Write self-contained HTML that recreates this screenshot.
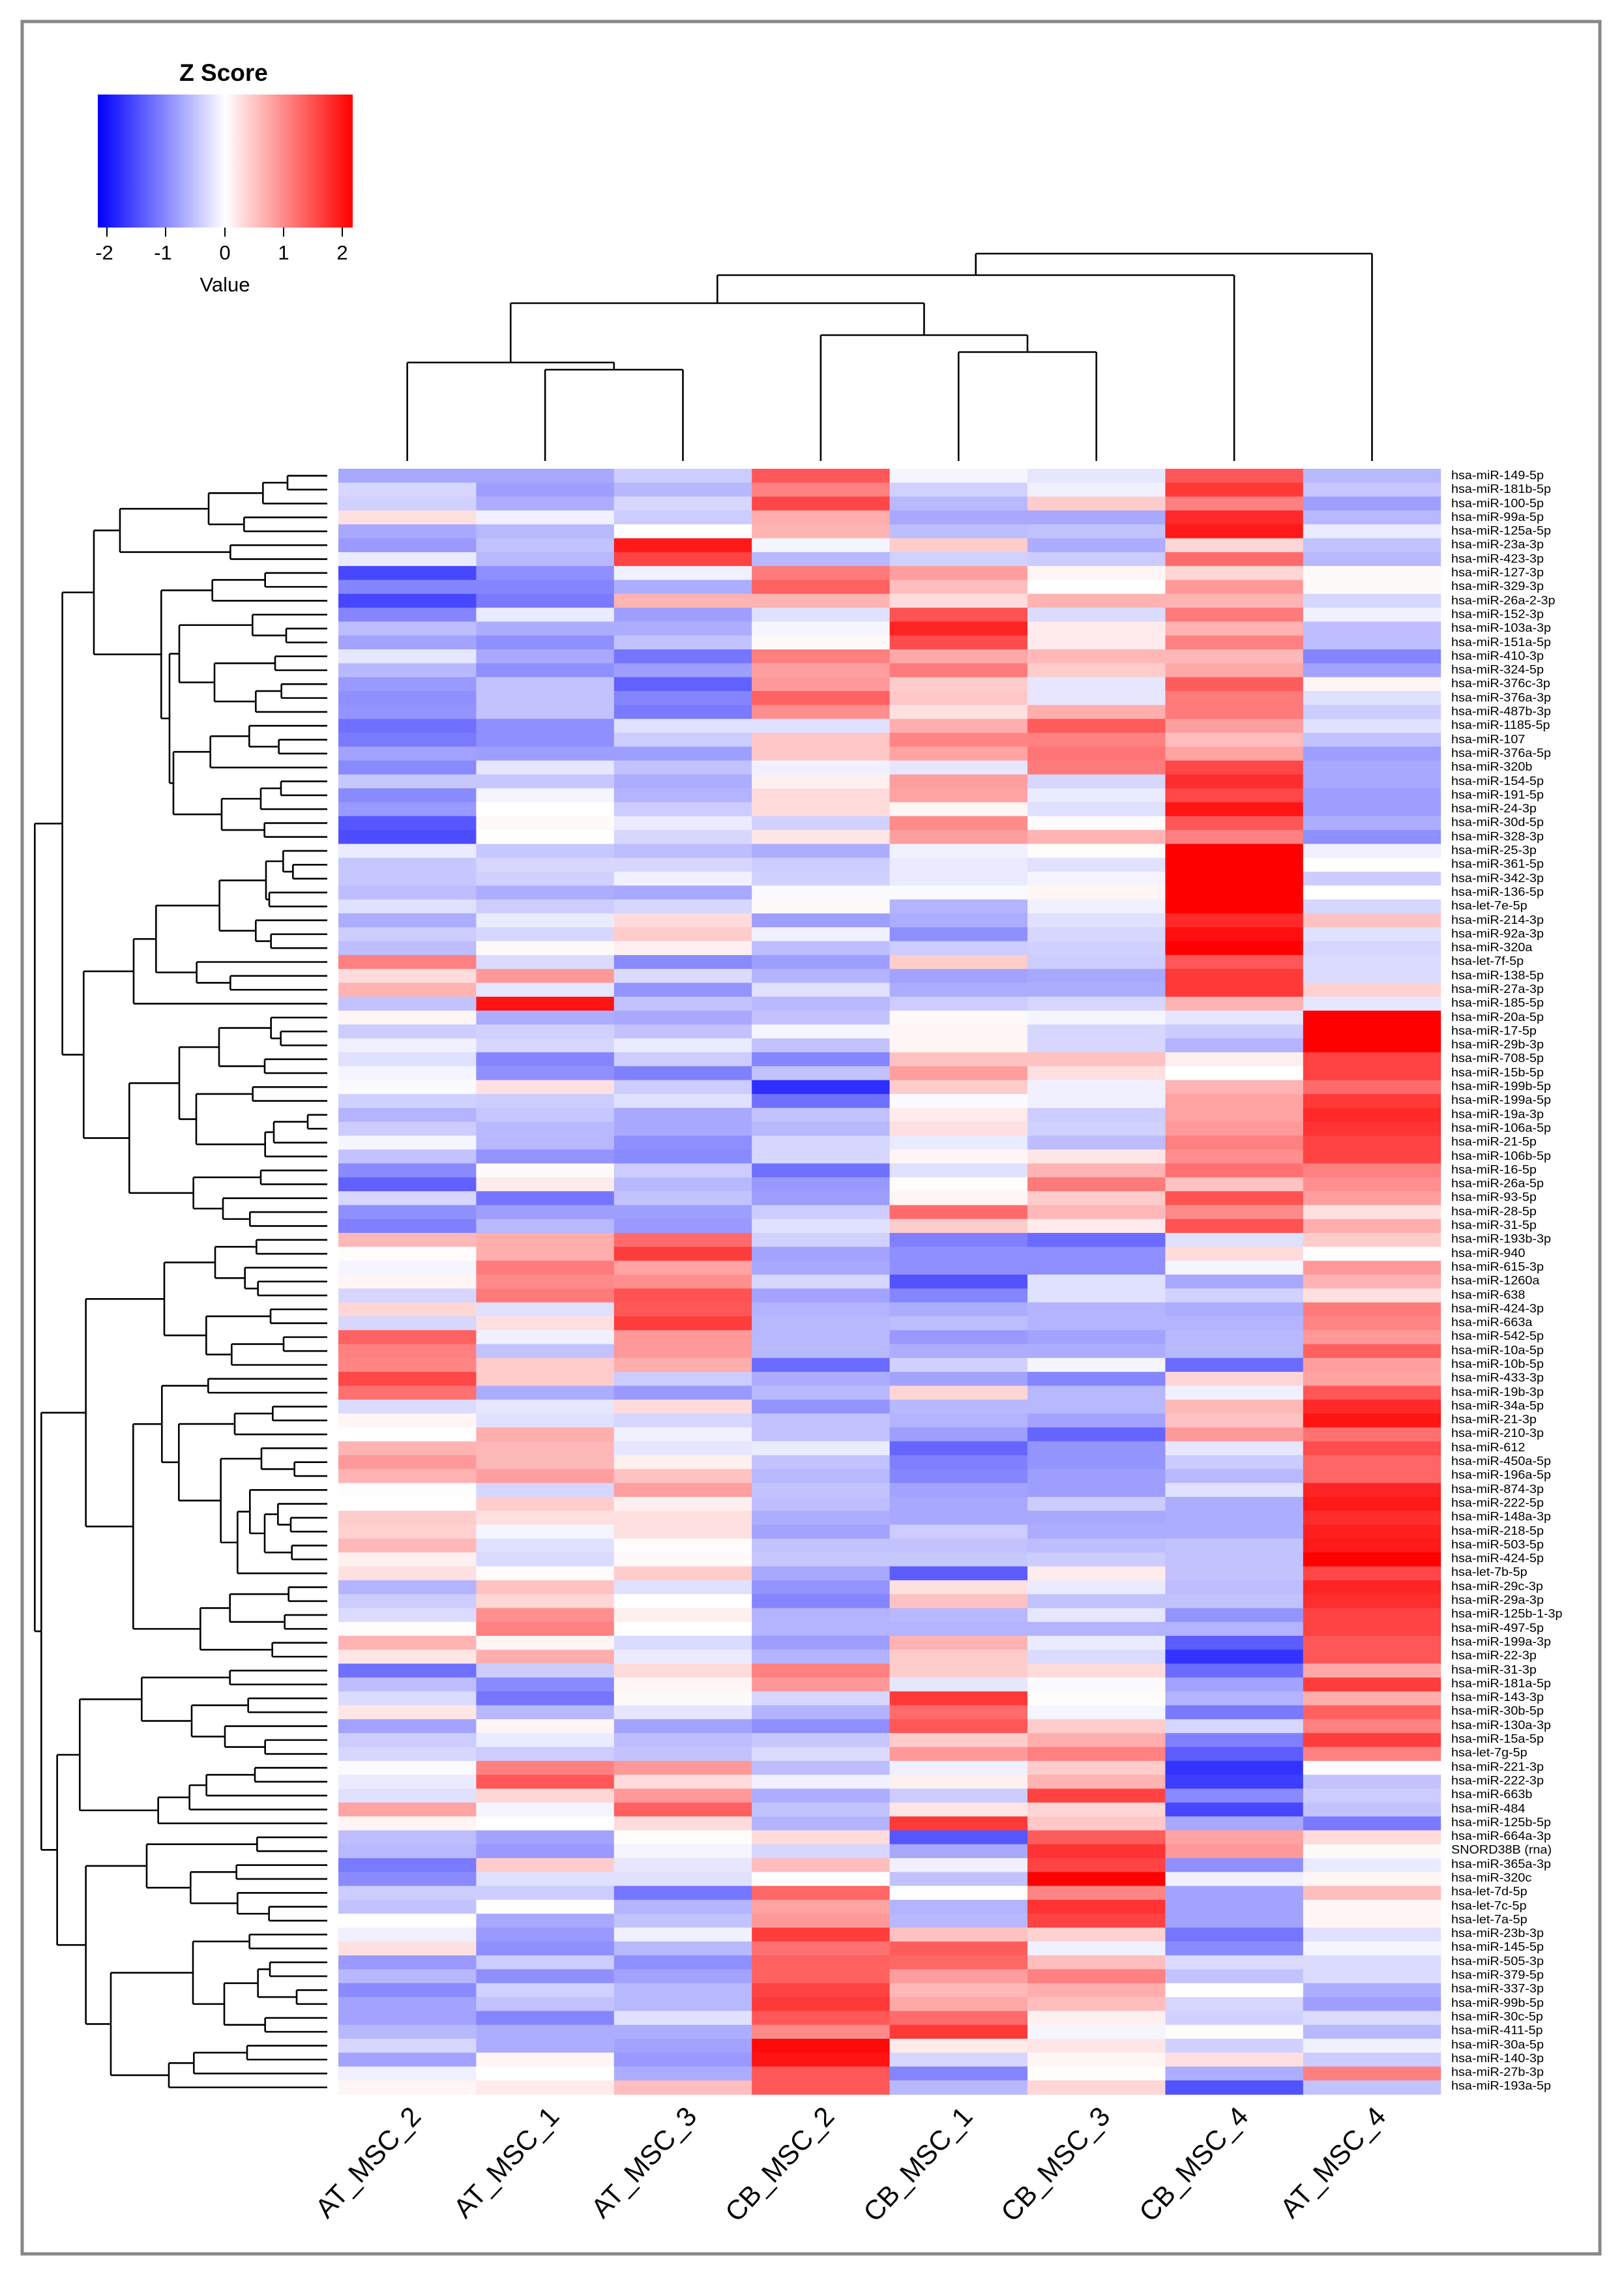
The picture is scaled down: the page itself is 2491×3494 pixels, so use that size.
<!DOCTYPE html>
<html><head><meta charset="utf-8">
<style>
html,body{margin:0;padding:0;background:#fff;}
#wrap{position:relative;width:2491px;height:3494px;overflow:hidden;background:#fff;font-family:"Liberation Sans",sans-serif;}
#labels{position:absolute;left:2226px;top:719px;width:230px;}
#labels div{height:21.31px;line-height:21.31px;font-size:18px;color:#000;white-space:nowrap;transform:scaleX(1.1);transform-origin:left center;}
svg{position:absolute;left:0;top:0;}
</style></head><body>
<div id="wrap">
<svg id="svg" width="2491" height="3494" xmlns="http://www.w3.org/2000/svg">
<defs><linearGradient id="zg" x1="0" x2="1" y1="0" y2="0">
<stop offset="0" stop-color="#0000ff"/><stop offset="0.5" stop-color="#ffffff"/><stop offset="1" stop-color="#ff0000"/></linearGradient></defs>
<rect x="34" y="33" width="2420" height="3424" fill="none" stroke="#888" stroke-width="5"/>
<text x="343" y="124" font-size="37" font-weight="bold" text-anchor="middle" font-family="Liberation Sans, sans-serif">Z Score</text>
<rect x="150" y="145" width="391" height="204" fill="url(#zg)"/>
<g stroke="#000" stroke-width="2">
<line x1="164" y1="349" x2="164" y2="363"/><line x1="254" y1="349" x2="254" y2="363"/><line x1="345" y1="349" x2="345" y2="363"/><line x1="435" y1="349" x2="435" y2="363"/><line x1="525" y1="349" x2="525" y2="363"/>
</g>
<g font-size="31" text-anchor="middle" font-family="Liberation Sans, sans-serif">
<text x="160" y="398">-2</text><text x="250" y="398">-1</text><text x="345" y="398">0</text><text x="435" y="398">1</text><text x="525" y="398">2</text>
<text x="345" y="447">Value</text>
</g>
<g id="cells"></g>
<g id="dend" stroke="#000" stroke-width="2.6" fill="none"></g>
<g font-size="42" text-anchor="end" font-family="Liberation Sans, sans-serif">
<text transform="translate(648,3248) rotate(-47)">AT_MSC_2</text>
<text transform="translate(860,3248) rotate(-47)">AT_MSC_1</text>
<text transform="translate(1071,3248) rotate(-47)">AT_MSC_3</text>
<text transform="translate(1282,3248) rotate(-47)">CB_MSC_2</text>
<text transform="translate(1494,3248) rotate(-47)">CB_MSC_1</text>
<text transform="translate(1705,3248) rotate(-47)">CB_MSC_3</text>
<text transform="translate(1917,3248) rotate(-47)">CB_MSC_4</text>
<text transform="translate(2128,3248) rotate(-47)">AT_MSC_4</text>
</g>
</svg>
<div id="labels">
<div>hsa-miR-149-5p</div><div>hsa-miR-181b-5p</div><div>hsa-miR-100-5p</div><div>hsa-miR-99a-5p</div><div>hsa-miR-125a-5p</div><div>hsa-miR-23a-3p</div><div>hsa-miR-423-3p</div><div>hsa-miR-127-3p</div><div>hsa-miR-329-3p</div><div>hsa-miR-26a-2-3p</div>
<div>hsa-miR-152-3p</div><div>hsa-miR-103a-3p</div><div>hsa-miR-151a-5p</div><div>hsa-miR-410-3p</div><div>hsa-miR-324-5p</div><div>hsa-miR-376c-3p</div><div>hsa-miR-376a-3p</div><div>hsa-miR-487b-3p</div><div>hsa-miR-1185-5p</div><div>hsa-miR-107</div>
<div>hsa-miR-376a-5p</div><div>hsa-miR-320b</div><div>hsa-miR-154-5p</div><div>hsa-miR-191-5p</div><div>hsa-miR-24-3p</div><div>hsa-miR-30d-5p</div><div>hsa-miR-328-3p</div><div>hsa-miR-25-3p</div><div>hsa-miR-361-5p</div><div>hsa-miR-342-3p</div>
<div>hsa-miR-136-5p</div><div>hsa-let-7e-5p</div><div>hsa-miR-214-3p</div><div>hsa-miR-92a-3p</div><div>hsa-miR-320a</div><div>hsa-let-7f-5p</div><div>hsa-miR-138-5p</div><div>hsa-miR-27a-3p</div><div>hsa-miR-185-5p</div><div>hsa-miR-20a-5p</div>
<div>hsa-miR-17-5p</div><div>hsa-miR-29b-3p</div><div>hsa-miR-708-5p</div><div>hsa-miR-15b-5p</div><div>hsa-miR-199b-5p</div><div>hsa-miR-199a-5p</div><div>hsa-miR-19a-3p</div><div>hsa-miR-106a-5p</div><div>hsa-miR-21-5p</div><div>hsa-miR-106b-5p</div>
<div>hsa-miR-16-5p</div><div>hsa-miR-26a-5p</div><div>hsa-miR-93-5p</div><div>hsa-miR-28-5p</div><div>hsa-miR-31-5p</div><div>hsa-miR-193b-3p</div><div>hsa-miR-940</div><div>hsa-miR-615-3p</div><div>hsa-miR-1260a</div><div>hsa-miR-638</div>
<div>hsa-miR-424-3p</div><div>hsa-miR-663a</div><div>hsa-miR-542-5p</div><div>hsa-miR-10a-5p</div><div>hsa-miR-10b-5p</div><div>hsa-miR-433-3p</div><div>hsa-miR-19b-3p</div><div>hsa-miR-34a-5p</div><div>hsa-miR-21-3p</div><div>hsa-miR-210-3p</div>
<div>hsa-miR-612</div><div>hsa-miR-450a-5p</div><div>hsa-miR-196a-5p</div><div>hsa-miR-874-3p</div><div>hsa-miR-222-5p</div><div>hsa-miR-148a-3p</div><div>hsa-miR-218-5p</div><div>hsa-miR-503-5p</div><div>hsa-miR-424-5p</div><div>hsa-let-7b-5p</div>
<div>hsa-miR-29c-3p</div><div>hsa-miR-29a-3p</div><div>hsa-miR-125b-1-3p</div><div>hsa-miR-497-5p</div><div>hsa-miR-199a-3p</div><div>hsa-miR-22-3p</div><div>hsa-miR-31-3p</div><div>hsa-miR-181a-5p</div><div>hsa-miR-143-3p</div><div>hsa-miR-30b-5p</div>
<div>hsa-miR-130a-3p</div><div>hsa-miR-15a-5p</div><div>hsa-let-7g-5p</div><div>hsa-miR-221-3p</div><div>hsa-miR-222-3p</div><div>hsa-miR-663b</div><div>hsa-miR-484</div><div>hsa-miR-125b-5p</div><div>hsa-miR-664a-3p</div><div>SNORD38B (rna)</div>
<div>hsa-miR-365a-3p</div><div>hsa-miR-320c</div><div>hsa-let-7d-5p</div><div>hsa-let-7c-5p</div><div>hsa-let-7a-5p</div><div>hsa-miR-23b-3p</div><div>hsa-miR-145-5p</div><div>hsa-miR-505-3p</div><div>hsa-miR-379-5p</div><div>hsa-miR-337-3p</div>
<div>hsa-miR-99b-5p</div><div>hsa-miR-30c-5p</div><div>hsa-miR-411-5p</div><div>hsa-miR-30a-5p</div><div>hsa-miR-140-3p</div><div>hsa-miR-27b-3p</div><div>hsa-miR-193a-5p</div>
</div>
</div>
<script>
var D=[
[-1.7,-1.7,-1,3.3,-0.2,-0.5,3.3,-1.4],[-0.8,-1.9,-1.4,2.5,-0.9,-0.3,3.9,-1.1],[-0.9,-1.6,-0.8,3.6,-1.4,1,2.5,-1.9],[0.6,-0.3,-1,1.6,-1.7,-1.7,4.2,-1.4],[-1.7,-1.4,0,1.5,-1.3,-1.2,4.5,-0.4],
[-2,-1.2,4.5,-0.2,1,-1.6,0.8,-1.2],[-0.4,-1.4,3.7,-1.4,-0.9,-1,2.9,-1.4],[-3.6,-2.2,-0.3,2.6,1.9,0.2,0.8,0.1],[-2.4,-2.4,-1.6,3.1,1.3,0,2,0.1],[-3.6,-2.6,1.5,1.5,0.7,1.5,1.5,-0.8],
[-2.4,-0.4,-1.9,-0.6,3.4,-0.7,2.6,-0.3],[-1.3,-1.6,-1.6,-0.2,4.3,0.4,1.5,-1.3],[-1.8,-2.2,-1.2,0.1,3.5,0.4,2.5,-1.3],[-0.5,-1.7,-2.7,2.5,1.7,1.4,1.4,-2.4],[-1.4,-2.2,-1.9,1.9,2.6,1,1.7,-1.8],
[-2,-1.2,-3.1,2,1,-0.5,3.2,0.2],[-2.2,-1.2,-2.4,3.1,1.1,-0.5,2.6,-0.6],[-2.1,-1.2,-2.6,2.2,0.6,1.6,2.6,-1],[-2.8,-2.2,-0.6,-0.6,1.6,3.2,1.9,-0.6],[-2.6,-2.2,-1,1.1,2.4,2.5,1.3,-1.2],
[-1.8,-1.9,-1.9,1.1,1.8,2.7,1.8,-1.9],[-2.3,-0.5,-1.2,-0.3,-0.5,2.6,3.6,-1.7],[-1.1,-1.1,-1.6,0.3,1.9,-0.8,4.1,-1.7],[-2.3,-0.2,-1.5,0.7,1.8,-0.4,3.6,-1.9],[-2,0,-1,0.7,0.2,-0.6,4.6,-1.9],
[-3.3,0.1,-0.4,-0.9,2.3,0.05,3.3,-1.6],[-3.5,0,-0.8,0.5,1.9,1.5,2.5,-2.2],[-0.4,-1.1,-1.3,-1.6,-0.3,0.05,5,-0.3],[-1.1,-0.8,-0.8,-1,-0.4,-0.6,5,0],[-1.1,-0.9,-0.3,-0.9,-0.4,-0.2,5,-1],
[-1.3,-1.6,-1.7,-0.1,-0.1,0.2,5,0],[-0.6,-1,-0.8,0.1,-1.5,-0.3,5,-0.8],[-1.6,-0.4,0.7,-1.9,-1.6,-0.6,4.2,1.2],[-1,-0.8,1,-0.3,-2.2,-0.8,4.7,-0.6],[-1.3,0.1,0.3,-1.3,-1,-0.9,5,-0.8],
[2.5,-0.7,-2.3,-1.9,1,-1,3.3,-0.7],[0.7,2,-0.7,-1.5,-1.8,-1.7,3.9,-0.7],[1.5,-0.5,-2.1,-0.6,-1.6,-1.6,3.9,0.9],[-1.2,4.6,-1.2,-1.4,-1,-0.8,1.5,-0.5],[0.2,-1.6,-1.7,-1.2,0.1,-0.2,-0.5,5],
[-1,-0.9,-1.2,-0.2,0.2,-0.8,-1,5],[-0.3,-0.8,-0.4,-1.2,0.2,-0.8,-1.5,5],[-0.6,-2.4,-1,-2.4,1.2,1.2,0.3,3.7],[-0.2,-2.2,-2.5,-1.2,1.9,0.6,0,3.7],[-0.1,0.6,-1,-4.1,1,-0.3,1.5,2.9],
[-0.9,-1,-0.6,-2.8,-0.1,-0.3,1.8,3.9],[-1.5,-1.1,-1.7,-1.2,0.4,-1,1.8,4.2],[-1,-1.4,-1.7,-1.4,0.6,-0.9,2,4],[-0.2,-1.4,-2.2,-0.8,-0.4,-1.3,2.5,3.7],[-1.2,-2.1,-2.3,-0.8,0.2,0.5,2.2,3.7],
[-2.3,0.1,-1,-2.8,-0.6,1.5,2.8,2.5],[-3.1,0.4,-1.4,-2,0.05,2.6,1.2,2.2],[-0.8,-2.7,-1.2,-1.9,0.2,1,3.4,1.9],[-2.2,-1.9,-1.9,-1,2.9,1.4,2.3,0.6],[-2.5,-1.4,-2,-0.6,1,0.4,3.4,1.6],
[1.4,1.6,2.9,-0.9,-2.5,-2.9,-0.6,1],[0.05,1.6,3.8,-1.8,-2.2,-2.2,0.7,0],[-0.2,2.6,1.8,-1.7,-2.2,-2.2,-0.2,2],[0.2,2.3,2.2,-0.8,-3.4,-0.6,-1.7,1.5],[-0.8,2.6,3.4,-1.8,-2.4,-0.6,-0.9,0.6],
[0.8,-0.6,3.3,-1.5,-1.6,-1.5,-1.6,2.6],[-0.8,0.6,3.8,-1.4,-1.3,-1.5,-1.5,2.4],[3.1,-0.3,2,-1.4,-2,-1.8,-1.4,2],[2.5,-1.2,2,-1.4,-1.6,-1.6,-1.4,3.1],[2.4,1,1.6,-2.9,-0.9,-0.2,-2.9,1.9],
[3.6,1,-1,-1.6,-1.8,-2.4,0.8,1.8],[2.8,-1.6,-2,-1.4,0.8,-1.4,-0.3,3.3],[-0.7,-0.5,0.7,-2.1,-1.4,-1.4,1.4,4.2],[0.2,-0.6,-0.8,-1.2,-1.5,-1.8,1.2,4.6],[0,1.6,-0.3,-1.2,-1.9,-3,2,2.8],
[1.5,1.4,-0.5,-0.4,-3,-2.1,-0.5,3.5],[2,1.4,0.3,-1.2,-2.5,-2.1,-1,3],[1.5,1.9,1.2,-1.4,-2.4,-1.9,-1.4,3],[0.05,-0.8,1.9,-1.2,-1.8,-1.9,-0.6,4.3],[0,1,0.3,-1.3,-1.7,-1,-1.6,4.5],
[1,0.6,0.6,-1.6,-1.7,-1.7,-1.6,4.1],[0.9,-0.2,0.6,-1.8,-1,-1.6,-1.6,4.4],[1.4,-0.6,0.05,-1.2,-1.2,-1.3,-1.2,4.5],[0.3,-0.7,0.1,-1.1,-1.1,-1,-1.2,5],[0.6,0.05,1,-1.7,-3.2,0.4,-1.2,3.6],
[-1.5,1.2,-0.6,-2.1,0.6,-0.4,-1.3,4.3],[-1,0.8,0,-2.4,1.2,-1.2,-1.2,4.1],[-0.7,2.2,0.3,-1.5,-1.4,-0.5,-2.1,3.7],[0.05,2.5,0,-1.5,-1.5,-1.5,-1.5,3.7],[1.5,0.2,-0.7,-1.9,1.5,-0.4,-3.2,3.3],
[0.5,1.6,-0.4,-1.5,1,-0.7,-4,3.3],[-2.8,-1,0.7,2.5,1,0.7,-2.9,1.7],[-1.3,-2.3,0.2,2,-0.5,-0.1,-1.8,3.8],[-0.7,-2.7,0.1,-0.8,3.9,0.05,-1.5,1.6],[0.5,-1.4,-0.5,-1.5,2.9,-0.2,-2.6,3.1],
[-1.8,0.2,-1.8,-2.2,3.3,1,-0.8,2.5],[-1,-0.4,-1.3,-1.1,1,1.6,-2.5,3.8],[-0.8,-1,-1.2,-0.7,2,2.5,-3.2,2.5],[-0.1,2.5,2,-1.3,-0.3,1,-4,0.05],[-0.4,3.3,0.7,-0.3,0.3,1.5,-3.8,-1.2],
[-0.6,0.8,2,-1.6,-1,3.7,-2.3,-1],[1.8,-0.2,3.1,-1.2,0.5,0.8,-3.6,-1.2],[0.2,0,0.7,-1.5,3.9,1.1,-1.7,-2.6],[-1.3,-1.8,0.05,0.7,-3.3,3.2,1.8,0.7],[-1.4,-2,-0.2,-0.8,-1.7,4,2,0.1],
[-2.6,1,-0.5,1.3,-0.3,3.7,-2.2,-0.4],[-2.3,-0.6,-0.6,0,-1.2,5,-0.3,0.2],[-1,-1,-2.7,3,0,2.4,-1.8,1.3],[-1.2,0,-1.5,1.8,-1.5,4,-1.8,0.2],[0,-1.7,-1.2,2,-1.4,3.7,-1.8,0.2],
[-0.3,-2,-0.3,3.8,1.2,0.9,-2.7,-0.6],[0.6,-2.2,-1.4,2.8,3.2,-0.3,-2.3,-0.2],[-2,-1,-2.2,3.1,3,1.3,-0.7,-0.7],[-1.4,-2.2,-1.8,3.1,1.9,2.5,-1.2,-0.7],[-2.3,-0.9,-1.4,3.7,1.4,1.6,0,-1.6],
[-1.8,-1.2,-1.4,3.9,1.7,1.3,-0.8,-1.9],[-1.8,-2.4,-0.6,3.3,2.9,0.3,-0.9,-0.7],[-1.4,-1.6,-1.6,2.3,3.9,-0.2,0.05,-1.4],[-0.8,-1.6,-1.8,4.8,0.4,0.5,-0.9,-0.3],[-1.8,0.2,-2,4.6,-0.8,0.2,0.6,-1],
[-0.3,0,-1.6,3.3,-2.4,0.05,-1.6,2.5],[0.2,0.4,1.3,3.3,-1.4,0.8,-3.4,-1.2]];
var NS="http://www.w3.org/2000/svg";
var X0=519,CW=211.4,Y0=719,RH=21.31;
var g=document.getElementById('cells');
function col(n){var c=Math.round(255*(1-Math.min(Math.abs(n),5)/5));return n>0?'rgb(255,'+c+','+c+')':'rgb('+c+','+c+',255)';}
for(var i=0;i<D.length;i++)for(var j=0;j<8;j++){var r=document.createElementNS(NS,'rect');
r.setAttribute('x',X0+j*CW);r.setAttribute('y',Y0+i*RH);r.setAttribute('width',CW+(j<7?0.6:0));r.setAttribute('height',RH+0.6);r.setAttribute('fill',col(D[i][j]));g.appendChild(r);}
var dg=document.getElementById('dend');
function ln(x1,y1,x2,y2){var l=document.createElementNS(NS,'line');l.setAttribute('x1',x1);l.setAttribute('y1',y1);l.setAttribute('x2',x2);l.setAttribute('y2',y2);dg.appendChild(l);}
var LX=502;
function draw(n){
 if(typeof n==='number')return [LX,Y0+(n-0.5)*RH];
 var x=40+n[0]/3,a=draw(n[1]),b=draw(n[2]);
 ln(x,a[1],x,b[1]);ln(x,a[1],a[0],a[1]);ln(x,b[1],b[0],b[1]);return [x,(a[1]+b[1])/2];}
var A=[432,[840,[1090,[1203,1,2],3],[1003,4,5]],[940,6,7]];
var B=[622,[857,[1100,8,9],10],[660,[705,[1042,11,[1197,12,13]],[867,[1146,14,15],[1057,[1175,16,17],18]]],[678,[848,[1027,19,[1163,20,21]],22],[900,[1080,[1173,23,24],25],[1097,26,27]]]]];
var C=[495,[598,[890,[1104,[1183,28,[1228,29,30]],[1119,31,32]],[1057,33,[1127,34,35]]],[785,36,[940,37,38]]],39];
var Dd=[475,[705,[888,[1127,40,[1172,41,42]],[1098,43,44]],[783,[1043,45,46],[1100,[1140,[1296,47,48],49],50]]],[770,[1080,51,52],[906,53,[1030,54,55]]]];
var L=[167,[312,A,B],[265,C,Dd]];
var E=[636,[870,[1060,56,57],[1007,58,[1067,59,60]]],[829,[1125,61,62],[946,[1185,63,64],65]]];
var F=[493,[625,[838,66,67],[703,[960,[1135,68,69],70],[896,[1083,71,[1235,72,73]],[973,[1030,74,[1098,[1159,75,[1218,76,77]],[1223,78,79]]],80]]]],[802,[938,[1208,81,82],[1190,83,84]],[1133,85,86]]];
var H=[247,[532,[938,87,88],[762,[1022,89,90],[915,91,[1100,92,93]]]],[608,[752,[830,[1053,94,95],96],97],98]];
var I=[555,[1063,99,100],[757,[968,101,102],[973,103,[1118,104,105]]]];
var J=[390,[768,[1028,106,107],[912,[1067,[1122,108,109],[1245,110,111]],[1100,112,113]]],[657,[772,[1017,114,115],116],117]];
var R=[70,[275,E,F],[143,H,[275,I,J]]];
draw([40,L,R]);
function cx(k){return X0+CW*(k+0.5);}
function U(xa,ya,xb,yb,h){ln(xa,ya,xa,h);ln(xb,yb,xb,h);ln(xa,h,xb,h);}
var bot=707;
U(cx(1),bot,cx(2),bot,567);var m1=(cx(1)+cx(2))/2;
U(cx(0),bot,m1,567,556);var m2=(cx(0)+m1)/2;
U(cx(4),bot,cx(5),bot,540);var m3=(cx(4)+cx(5))/2;
U(cx(3),bot,m3,540,514);var m4=(cx(3)+m3)/2;
U(m2,556,m4,514,465);var m5=(m2+m4)/2;
U(m5,465,cx(6),bot,422);var m6=(m5+cx(6))/2;
U(m6,422,cx(7),bot,389);
</script>
</body></html>
